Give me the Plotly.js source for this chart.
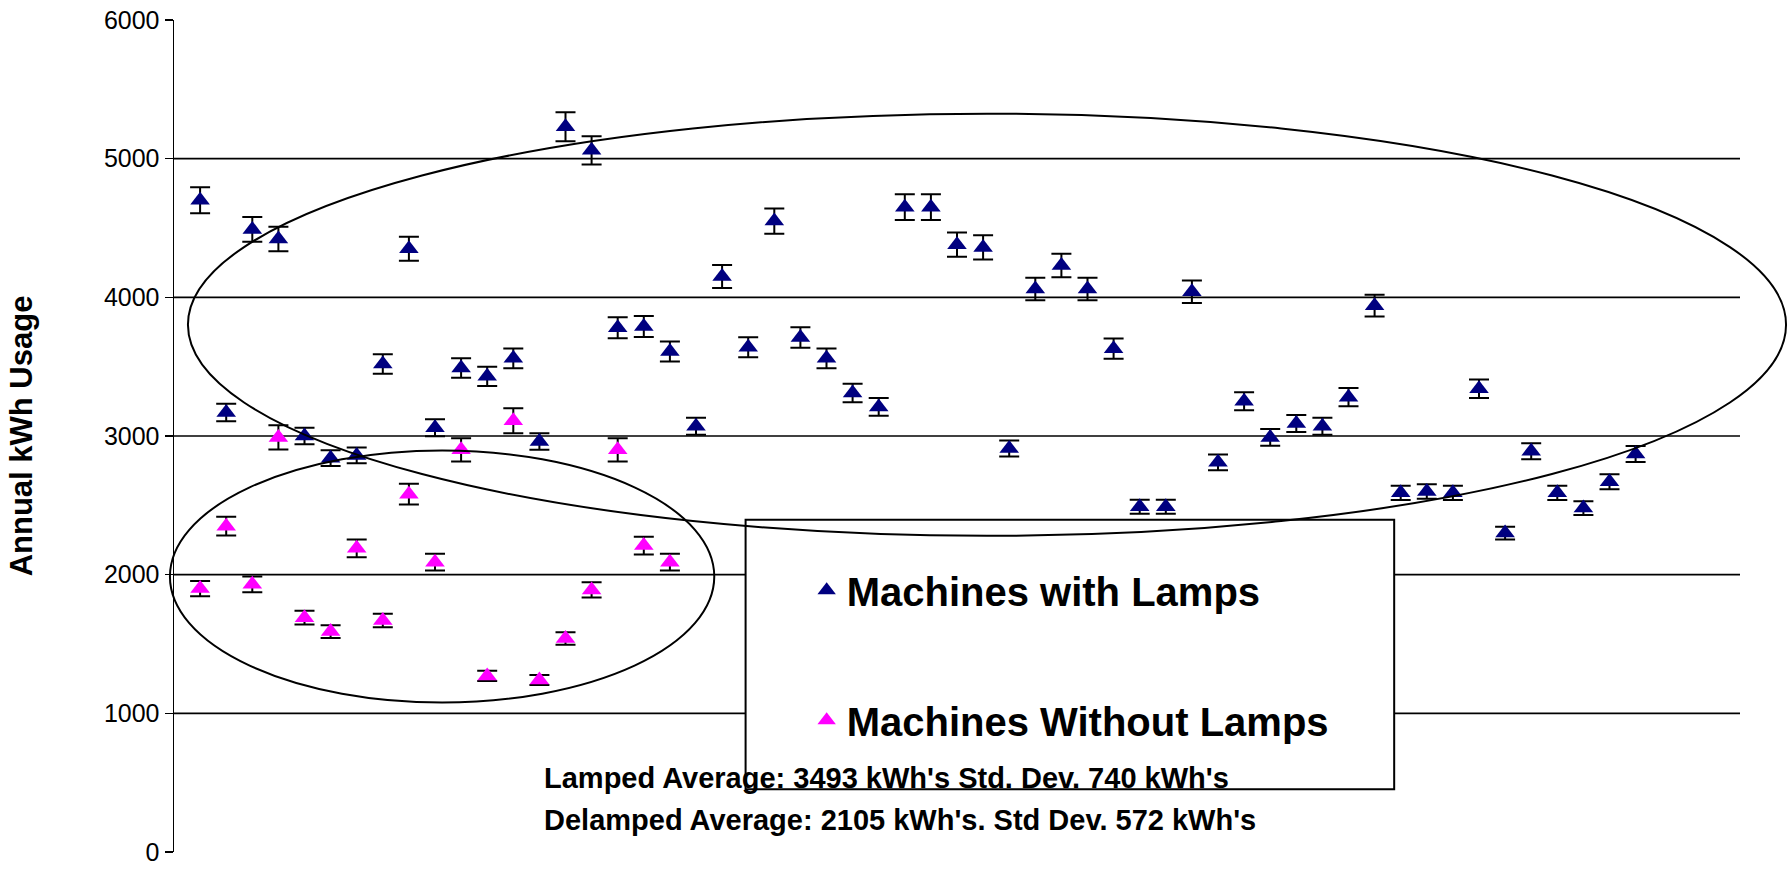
<!DOCTYPE html>
<html>
<head>
<meta charset="utf-8">
<script src="https://cdn.plot.ly/plotly-3.0.1.min.js"></script>
<style>html,body{margin:0;padding:0;background:#fff;}#chart{width:1791px;height:869px;}</style>
</head>
<body>
<div id="chart"></div>
<script>
// ---- data ----
const lampedUsage = [4700, 3170, 4490, 4420, 3000, 2840, 2860, 3520, 4350, 3060,
                     3490, 3430, 3560, 2960, 5230, 5060, 3780, 3790, 3610, 3070,
                     4150, 3640, 4550, 3710, 3560, 3310, 3210, 4650, 4650, 4380,
                     4360, 2910, 4060, 4230, 4060, 3630, 2490, 2490, 4040, 2810,
                     3250, 2990, 3090, 3070, 3280, 3940, 2590, 2600, 2590, 3340,
                     2300, 2890, 2590, 2480, 2670, 2870];
const delampedUsage = [1900, 2350, 1930, 2990, 1690, 1590, 2190, 1670, 2580, 2090,
                       2900, 1270, 3110, 1240, 1540, 1890, 2900, 2210, 2090];
const lampedMachine = lampedUsage.map((v, i) => i + 1);
const delampedMachine = delampedUsage.map((v, i) => i + 1);
const lampedErrPct = 2.0;
const delampedErrPct = 2.9;
const yTicks = [0, 1000, 2000, 3000, 4000, 5000, 6000];
const gridValues = [1000, 2000, 3000, 4000, 5000];
const seriesNames = ['Machines with Lamps', 'Machines Without Lamps'];
const statLines = ["Lamped Average: 3493 kWh's Std. Dev. 740 kWh's",
                   "Delamped Average: 2105 kWh's. Std Dev. 572 kWh's"];
const yTitle = 'Annual kWh Usage';

const FONT = 'Liberation Sans, Arial, sans-serif';

const traces = [
  {
    x: lampedMachine, y: lampedUsage, type: 'scatter', mode: 'markers',
    name: seriesNames[0], legendgroup: 'a',
    marker: {symbol: 'triangle-up', size: 17, color: '#000080'},
    error_y: {type: 'percent', value: lampedErrPct, color: '#000000', thickness: 2, width: 10}
  },
  {
    x: delampedMachine, y: delampedUsage, type: 'scatter', mode: 'markers',
    name: seriesNames[1], legendgroup: 'b',
    marker: {symbol: 'triangle-up', size: 17, color: '#FF00FF'},
    error_y: {type: 'percent', value: delampedErrPct, color: '#000000', thickness: 2, width: 10}
  }
];

const gridShapes = gridValues.map(v => ({
  type: 'line', xref: 'paper', yref: 'y', x0: 0, x1: 1, y0: v, y1: v,
  layer: 'below', line: {color: '#000', width: 1.6}
}));

const layout = {
  width: 1791, height: 869,
  margin: {l: 174, r: 51, t: 20, b: 17},
  paper_bgcolor: '#ffffff', plot_bgcolor: '#ffffff',
  font: {family: FONT, color: '#000000'},
  showlegend: true,
  legend: {
    x: 0.404, y: 0.3538, xanchor: 'left', yanchor: 'top',
    bgcolor: 'rgba(0,0,0,0)', borderwidth: 0,
    font: {family: FONT, size: 40, color: '#000000', weight: 'bold'},
    traceorder: 'grouped', tracegroupgap: 75
  },
  xaxis: {range: [0, 60], visible: false, fixedrange: true},
  yaxis: {
    range: [0, 6000], tickvals: yTicks, ticktext: yTicks.map(String),
    ticks: 'outside', ticklen: 8, tickwidth: 1.5, tickcolor: '#000',
    showline: true, linecolor: '#000', linewidth: 1.5,
    showgrid: false, zeroline: false, ticklabeloverflow: 'allow',
    tickfont: {family: FONT, size: 25, color: '#000'},
    title: {text: yTitle, standoff: 62, font: {family: FONT, size: 31, color: '#000', weight: 'bold'}},
    automargin: false
  },
  shapes: gridShapes.concat([
    {type: 'rect', xref: 'x', yref: 'y', x0: 21.9, x1: 46.75, y0: 452, y1: 2396,
     layer: 'between', fillcolor: '#ffffff', line: {color: '#000', width: 2}},
    {type: 'circle', xref: 'paper', yref: 'paper', x0: 0.0089, x1: 1.0294, y0: 0.380, y1: 0.8874,
     line: {color: '#000', width: 2}},
    {type: 'circle', xref: 'paper', yref: 'paper', x0: -0.0026, x1: 0.3450, y0: 0.1797, y1: 0.4826,
     line: {color: '#000', width: 2}}
  ]),
  annotations: statLines.map((t, i) => ({
    text: t, xref: 'paper', yref: 'paper', x: 0.235, y: [0.0893, 0.0379][i],
    xanchor: 'left', yanchor: 'middle', showarrow: false,
    font: {family: FONT, size: 29, color: '#000', weight: 'bold'}
  }))
};

Plotly.newPlot('chart', traces, layout, {displayModeBar: false, staticPlot: true});
</script>
</body>
</html>
